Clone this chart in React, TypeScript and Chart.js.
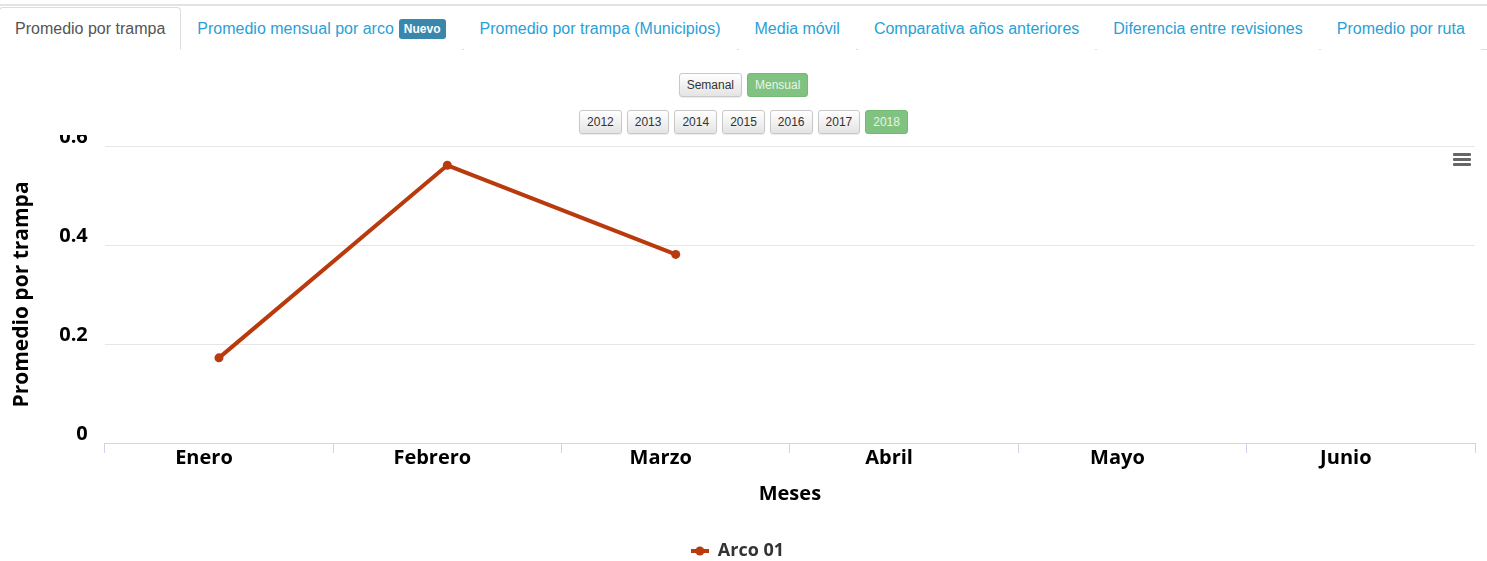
import { useEffect, useRef } from 'react';
import { Chart, registerables } from 'chart.js';

Chart.register(...registerables);

const categories = ['Enero', 'Febrero', 'Marzo', 'Abril', 'Mayo', 'Junio'];
const arco01: (number | null)[] = [0.172, 0.561, 0.381, null, null, null];
const seriesName = 'Arco 01';
const yMin = 0;
const yMax = 0.6;
const yStep = 0.2;
const yTitle = 'Promedio por trampa';
const xTitle = 'Meses';

const tabs = [
  'Promedio por trampa',
  'Promedio mensual por arco',
  'Promedio por trampa (Municipios)',
  'Media móvil',
  'Comparativa años anteriores',
  'Diferencia entre revisiones',
  'Promedio por ruta',
];
const periods = ['Semanal', 'Mensual'];
const years = ['2012', '2013', '2014', '2015', '2016', '2017', '2018'];

const LINE = '#b93a0c';
const FONT = '"Open Sans", "DejaVu Sans", sans-serif';

function Btn({ label, active }: { label: string; active: boolean }) {
  return (
    <div
      style={{
        height: 22,
        lineHeight: '22px',
        padding: '0 7px',
        fontFamily: 'Arial, "Liberation Sans", sans-serif',
        fontSize: 12,
        color: active ? '#e8f4e8' : '#333',
        border: active ? '1px solid #76b976' : '1px solid #c8c8c8',
        borderRadius: 3,
        background: active ? '#80c280' : 'linear-gradient(#ffffff, #e4e4e4)',
        boxShadow: active ? 'none' : '0 1px 1px rgba(0,0,0,0.08)',
      }}
    >
      {label}
    </div>
  );
}

export default function App() {
  const canvasRef = useRef<HTMLCanvasElement | null>(null);

  useEffect(() => {
    document.body.style.margin = '0';
    const legendIcon = document.createElement('canvas');
    legendIcon.width = 18;
    legendIcon.height = 10;
    const ic = legendIcon.getContext('2d')!;
    ic.fillStyle = LINE;
    ic.fillRect(0, 3, 18, 4);
    ic.beginPath();
    ic.arc(9, 5, 4.5, 0, Math.PI * 2);
    ic.fill();

    const chart = new Chart(canvasRef.current!, {
      type: 'line',
      data: {
        labels: categories,
        datasets: [
          {
            label: seriesName,
            data: arco01,
            borderColor: LINE,
            backgroundColor: LINE,
            borderWidth: 4,
            pointRadius: 4.5,
            pointBackgroundColor: LINE,
            pointBorderWidth: 0,
            tension: 0,
            spanGaps: false,
          },
        ],
      },
      options: {
        animation: false,
        responsive: true,
        maintainAspectRatio: false,
        layout: { padding: { top: 12, right: 12, bottom: 0, left: 0 } },
        plugins: {
          legend: {
            position: 'bottom',
            labels: {
              usePointStyle: true,
              pointStyle: legendIcon as any,
              pointStyleWidth: 18,
              color: '#333',
              font: { family: FONT, size: 18, weight: 'bold' },
              padding: 10,
            },
          },
          tooltip: { enabled: false },
        },
        scales: {
          x: {
            offset: true,
            grid: {
              display: true,
              drawOnChartArea: false,
              drawTicks: true,
              tickLength: 10,
              color: '#ccd6eb',
              offset: true,
            },
            border: { display: true, color: '#ccd6eb', width: 1 },
            ticks: {
              color: '#000',
              font: { family: FONT, size: 20, weight: 'bold' },
              padding: -7,
              labelOffset: -15,
              maxRotation: 0,
              autoSkip: false,
            },
            title: {
              display: true,
              text: xTitle,
              color: '#000',
              font: { family: FONT, size: 20, weight: 'bold' },
              padding: { top: 19, bottom: 26 },
            },
          },
          y: {
            min: yMin,
            max: yMax,
            ticks: {
              stepSize: yStep,
              color: '#000',
              font: { family: FONT, size: 20, weight: 'bold' },
              padding: 17,
              labelOffset: -9,
            },
            grid: {
              color: (ctx: any) => (ctx.tick && ctx.tick.value === 0 ? 'rgba(0,0,0,0)' : '#e6e6e6'),
              drawTicks: false,
              lineWidth: 1,
            },
            border: { display: false },
            title: {
              display: true,
              text: yTitle,
              color: '#000',
              font: { family: FONT, size: 21, weight: 'bold' },
              padding: { top: 9, bottom: 8 },
            },
          },
        },
      },
    });
    return () => chart.destroy();
  }, []);

  return (
    <div style={{ position: 'relative', width: '100%', height: 561, overflow: 'hidden', background: '#fff' }}>
      <div style={{ position: 'absolute', top: 4, left: 0, right: 0, height: 2, background: '#e3e3e3' }} />
      <div
        style={{
          position: 'absolute',
          top: 7,
          left: 0,
          right: 0,
          height: 42,
          borderBottom: '1px solid #ddd',
          display: 'flex',
          fontFamily: 'Arial, "Liberation Sans", sans-serif',
          fontSize: 16,
        }}
      >
        {tabs.map((t, i) => (
          <div
            key={t}
            style={{
              lineHeight: '22px',
              padding: '10px 15px',
              boxSizing: 'border-box',
              marginRight: i === 0 ? 0 : 2,
              marginLeft: i === 0 ? -1 : 0,
              border: i === 0 ? '1px solid #ddd' : '1px solid transparent',
              borderBottom: i === 0 ? '1px solid #fff' : '1px solid transparent',
              borderRadius: '4px 4px 0 0',
              background: '#fff',
              color: i === 0 ? '#555' : '#2a9fd6',
              whiteSpace: 'nowrap',
              display: 'flex',
              alignItems: 'center',
              height: 43,
            }}
          >
            {t}
            {i === 1 && (
              <span
                style={{
                  marginLeft: 5,
                  background: '#3a87ad',
                  color: '#fff',
                  fontWeight: 'bold',
                  fontSize: 12,
                  lineHeight: '20px',
                  padding: '0 5px',
                  borderRadius: 3,
                }}
              >
                Nuevo
              </span>
            )}
          </div>
        ))}
      </div>
      <div style={{ position: 'absolute', top: 73, left: 0, right: 0, display: 'flex', justifyContent: 'center', gap: 5 }}>
        {periods.map((p) => (
          <Btn key={p} label={p} active={p === 'Mensual'} />
        ))}
      </div>
      <div style={{ position: 'absolute', top: 110, left: 0, right: 0, display: 'flex', justifyContent: 'center', gap: 5 }}>
        {years.map((y) => (
          <Btn key={y} label={y} active={y === '2018'} />
        ))}
      </div>
      <div style={{ position: 'absolute', top: 135, left: 0, width: 1487, height: 440, overflow: 'hidden' }}>
        <div style={{ position: 'absolute', top: -18, left: 0, width: 1487, height: 453 }}>
          <canvas ref={canvasRef} />
        </div>
      </div>
      <div style={{ position: 'absolute', top: 153, left: 1453, width: 18 }}>
        {[0, 1, 2].map((k) => (
          <div key={k} style={{ height: 3, background: '#666', marginBottom: 2, borderRadius: 1 }} />
        ))}
      </div>
    </div>
  );
}
